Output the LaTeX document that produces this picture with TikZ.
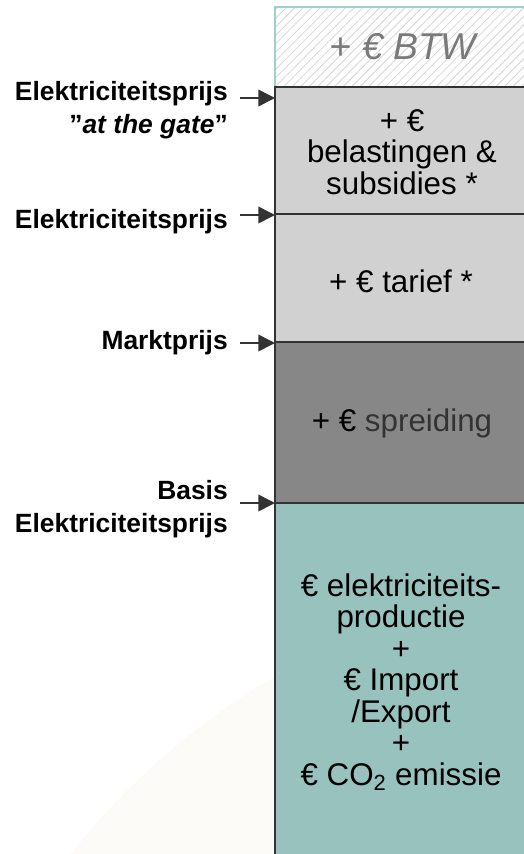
\documentclass[tikz,border=0pt]{standalone}
\usepackage{fontspec}
\setmainfont{Liberation Sans}
\usetikzlibrary{arrows.meta,patterns.meta}
\definecolor{hatchgray}{HTML}{D6D6D6}
\definecolor{btwedge}{HTML}{9FCFCB}
\definecolor{btwtext}{HTML}{7A7A7A}
\definecolor{lightblock}{HTML}{D1D1D1}
\definecolor{darkblock}{HTML}{878787}
\definecolor{baseblock}{HTML}{98C2BE}
\definecolor{edgecol}{HTML}{333333}
\definecolor{haze}{HTML}{FCFBF8}
\definecolor{softtext}{HTML}{333333}
\begin{document}
\begin{tikzpicture}[x=0.75pt,y=-0.75pt,
  blocktext/.style={align=center,inner sep=0pt,
    font=\fontsize{23.5}{23.6}\selectfont},
  pricelabel/.style={align=right,anchor=east,inner sep=0pt,
    font=\fontsize{19.8}{24.75}\selectfont\bfseries},
  pointer/.style={draw=edgecol,line width=1.2pt,
    -{Triangle[length=12.5pt,width=12.5pt]}},
  divider/.style={draw=edgecol,line width=1.5pt}]
\useasboundingbox (0,0) rectangle (524,854);
\clip (0,0) rectangle (524,854);

% faint background disc
\fill[haze] (648,1312) circle (737);

% VAT block, hatched
\fill[white] (275,7) rectangle (540,87);
\fill[pattern={Lines[angle=45,distance=4.5pt,line width=0.6pt]},pattern color=hatchgray]
  (275,7) rectangle (540,87);
\draw[btwedge,line width=0.8pt] (540,87) -- (275,87) -- (275,7) -- (540,7);

% stacked price blocks
\fill[lightblock] (275,87) rectangle (540,214);
\fill[lightblock] (275,214) rectangle (540,342);
\fill[darkblock] (275,342) rectangle (540,503);
\fill[baseblock] (275,503) rectangle (540,860);

\draw[divider] (275,87) -- (540,87);
\draw[divider] (275,214) -- (540,214);
\draw[divider] (275,342) -- (540,342);
\draw[divider] (275,503) -- (540,503);
\draw[divider] (275,86) -- (275,860);

% block texts
\node[blocktext,text=btwtext,font=\fontsize{28}{32}\selectfont\itshape]
  (btw) at (403,47) {+ € BTW};
\node[blocktext] (tax) at (402,152) {+ €\\ belastingen \&\\ subsidies *};
\node[blocktext] (tariff) at (401,281) {+ € tarief *};
\node[blocktext] (spread) at (402,423) {+ € \textcolor{softtext}{spreiding}};
\node[blocktext] (base) at (401,682)
  {€ elektriciteits-\\productie\\+\\€ Import\\/Export\\+\\€ CO\textsubscript{2} emissie};

% price level labels
\node[pricelabel] (gate) at (228,110) {Elektriciteitsprijs\\”\textit{at the gate}”};
\node[pricelabel] (elec) at (228,222) {Elektriciteitsprijs};
\node[pricelabel] (market) at (228,343) {Marktprijs};
\node[pricelabel] (basis) at (228,509) {Basis\\Elektriciteitsprijs};

% arrows pointing at the price levels
\coordinate (gateS) at (240,98);   \coordinate (gateT) at (275,98);
\coordinate (elecS) at (240,215);  \coordinate (elecT) at (275,215);
\coordinate (marketS) at (240,343);\coordinate (marketT) at (275,343);
\coordinate (basisS) at (240,503); \coordinate (basisT) at (275,503);
\draw[pointer] (gateS) -- (gateT);
\draw[pointer] (elecS) -- (elecT);
\draw[pointer] (marketS) -- (marketT);
\draw[pointer] (basisS) -- (basisT);
\end{tikzpicture}
\end{document}
